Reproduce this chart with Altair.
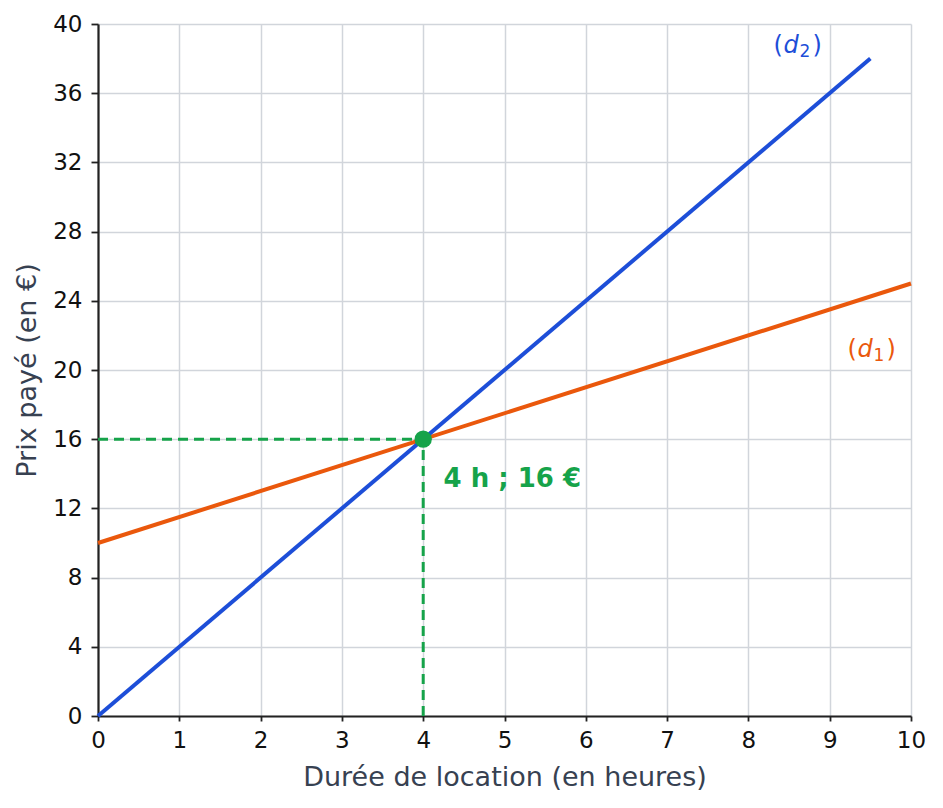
import altair as alt
import pandas as pd

# Data
d1_x = [0, 10]
d1_y = [10, 25]
d2_x = [0, 9.5]
d2_y = [0, 38]
inter_x = [4]
inter_y = [16]
x_ticks = list(range(0, 11))
y_ticks = list(range(0, 41, 2))

BLUE = "#1d4ed8"
ORANGE = "#ea580c"
GREEN = "#16a34a"

lines_df = pd.DataFrame({
    "x": d1_x + d2_x,
    "y": d1_y + d2_y,
    "serie": ["d1", "d1", "d2", "d2"],
})
pt_df = pd.DataFrame({"x": inter_x, "y": inter_y})
hdash_df = pd.DataFrame({"x": [0, inter_x[0]], "y": [inter_y[0], inter_y[0]]})
vdash_df = pd.DataFrame({"x": [inter_x[0], inter_x[0]], "y": [0, inter_y[0]]})

# line labels (d_2), (d_1): left anchor of the label
lab_x = [8.31, 9.22]
lab_y = [38.75, 21.15]
lab_sub = ["2", "1"]
lab_col = [BLUE, ORANGE]
lab_df = pd.DataFrame({"x": lab_x, "y": lab_y, "sub": lab_sub, "c": lab_col})

pt_lab_df = pd.DataFrame({"x": [4.25], "y": [13.7], "t": ["4 h ; 16 €"]})

xs = alt.Scale(domain=[0, 10], nice=False, zero=False)
ys = alt.Scale(domain=[0, 40], nice=False, zero=False)

x_enc = alt.X("x:Q", scale=xs, axis=alt.Axis(
    values=x_ticks, title="Durée de location (en heures)", format="d",
    grid=True, labelFlush=False, labelPadding=8, titlePadding=12))
y_enc = alt.Y("y:Q", scale=ys, axis=alt.Axis(
    values=y_ticks, title="Prix payé (en €)",
    labelExpr="datum.value % 4 === 0 ? datum.label : ''",
    tickSize={"condition": {"test": "datum.value % 4 === 0", "value": 7}, "value": 4},
    grid=True, labelFlush=False, labelPadding=9, titlePadding=11))

hdash = alt.Chart(hdash_df).mark_line(color=GREEN, strokeWidth=3, strokeDash=[10, 6]).encode(
    x=x_enc, y=y_enc)
vdash = alt.Chart(vdash_df).mark_line(color=GREEN, strokeWidth=3, strokeDash=[10, 6]).encode(
    x="x:Q", y="y:Q")

lines = alt.Chart(lines_df).mark_line(strokeWidth=4).encode(
    x="x:Q", y="y:Q",
    color=alt.Color("serie:N", scale=alt.Scale(domain=["d1", "d2"], range=[ORANGE, BLUE]), legend=None),
    detail="serie:N",
)

pt = alt.Chart(pt_df).mark_point(filled=True, size=300, color=GREEN, opacity=1).encode(
    x="x:Q", y="y:Q")

base_lab = alt.Chart(lab_df).encode(x="x:Q", y="y:Q", color=alt.Color("c:N", scale=None))
lp = base_lab.mark_text(fontSize=24, font="DejaVu Sans", align="left", baseline="middle", dx=0).encode(
    text=alt.value("("))
ld = base_lab.mark_text(fontSize=24, font="DejaVu Sans", fontStyle="italic", align="left",
                        baseline="middle", dx=10).encode(text=alt.value("d"))
ls = base_lab.mark_text(fontSize=17, font="DejaVu Sans", align="left", baseline="middle",
                        dx=26, dy=6).encode(text="sub:N")
lr = base_lab.mark_text(fontSize=24, font="DejaVu Sans", align="left", baseline="middle", dx=39).encode(
    text=alt.value(")"))

pt_lab = alt.Chart(pt_lab_df).mark_text(fontSize=26, fontWeight="bold", font="DejaVu Sans",
                                        align="left", baseline="middle", color=GREEN).encode(
    x="x:Q", y="y:Q", text="t:N")

chart = alt.layer(hdash, vdash, lines, pt, lp, ld, ls, lr, pt_lab).properties(
    width=813, height=692
).configure_view(stroke=None).configure_axis(
    labelFont="DejaVu Sans", titleFont="DejaVu Sans",
    labelFontSize=23, titleFontSize=27, titleFontWeight="normal",
    labelColor="#111111", titleColor="#374151",
    gridColor="#d1d5db", gridWidth=1.5,
    domainColor="#222222", domainWidth=2.2, tickColor="#222222", tickWidth=1.8,
)

chart.save("out.html", embed_options={"renderer": "svg", "actions": False})
